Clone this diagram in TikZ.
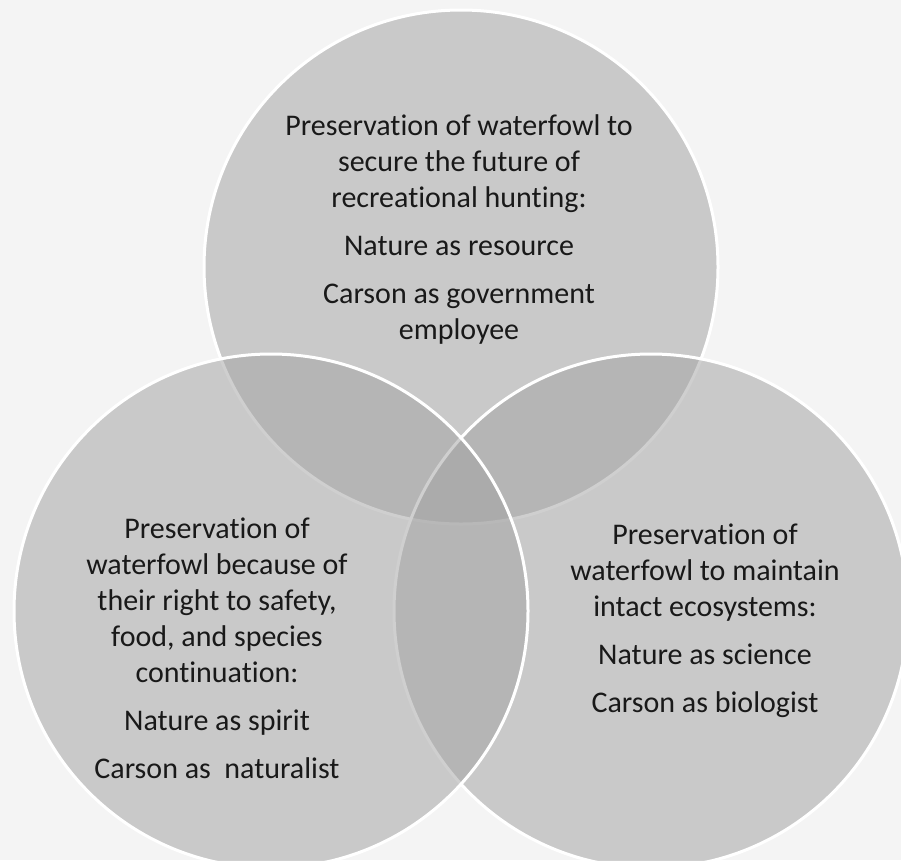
\documentclass[tikz,border=0pt]{standalone}
\usepackage{fontspec}
\setmainfont{Carlito}[Ligatures=NoCommon]
\usepackage{tikz}

\definecolor{paper}{gray}{0.955}
\definecolor{disc}{gray}{0.64}

\begin{document}
\begin{tikzpicture}[x=1pt, y=-1pt,
		venn/.style={circle, minimum size=514pt, inner sep=0pt, fill=disc, fill opacity=0.52, draw=white, draw opacity=1, line width=3pt},
		words/.style={align=center, font=\fontsize{30}{36}\selectfont, text=black!90}]
		\fill[paper] (0,0) rectangle (901,860);
		\useasboundingbox (0,0) rectangle (901,860);

		\node[venn] (hunt) at (461,267) {};
		\node[venn] (science) at (651,611) {};
		\node[venn] (spirit) at (271,611) {};

		\node[words] (huntText) at (459,229) {Preservation of waterfowl to\\ secure the future of\\ recreational hunting:\\[12pt] Nature as resource\\[12pt] Carson as government\\ employee};
		\node[words] (spiritText) at (217,648) {Preservation of\\ waterfowl because of\\ their right to safety,\\ food, and species\\ continuation:\\[12pt] Nature as spirit\\[12pt] Carson as~~naturalist};
		\node[words] (scienceText) at (705,621) {Preservation of\\ waterfowl to maintain\\ intact ecosystems:\\[12pt] Nature as science\\[12pt] Carson as biologist};
	\end{tikzpicture}
\end{document}
